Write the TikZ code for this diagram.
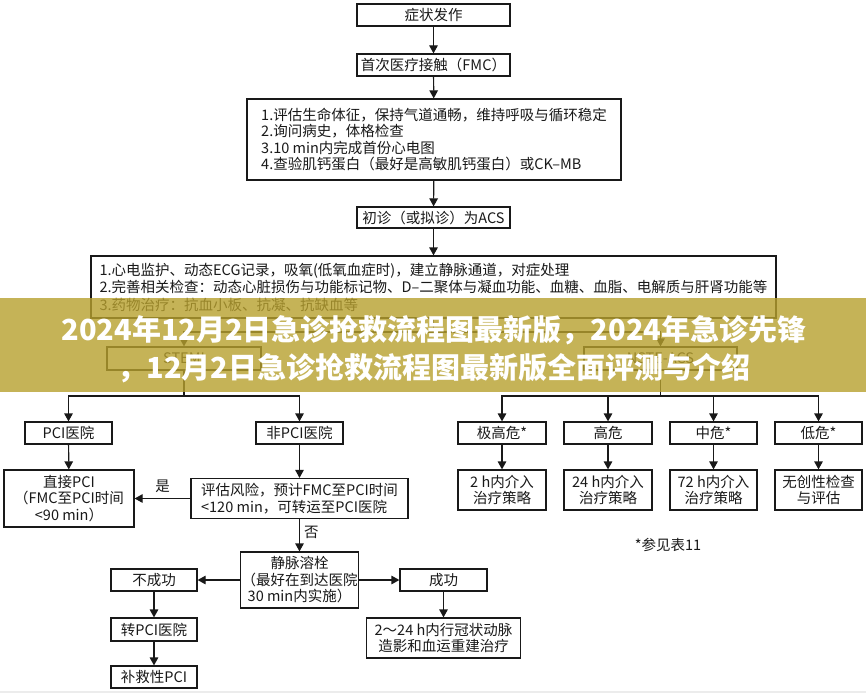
\documentclass[tikz,border=0pt]{standalone}
\usepackage{fontspec}
\setmainfont{Noto Sans CJK SC}
\usetikzlibrary{arrows.meta}
\definecolor{bannerc}{RGB}{183,160,46}
\definecolor{inkc}{RGB}{25,25,25}
\begin{document}
\begin{tikzpicture}[x=1pt,y=-1pt,
  box/.style={draw=inkc, line width=1.2pt, inner sep=0pt, text=inkc,
    font=\fontsize{14.5}{16.5}\selectfont, align=center},
  arr/.style={draw=inkc, line width=1.2pt, -{Triangle[length=8pt,width=8.5pt]}},
  ln/.style={draw=inkc, line width=1.2pt},
  lbl/.style={text=inkc, font=\fontsize{14.5}{16.5}\selectfont, inner sep=0pt}]
\useasboundingbox (0,0) rectangle (866,693);
\fill[white] (0,0) rectangle (866,693);

% top chain
\node[box, minimum width=153pt, minimum height=22pt] (s1) at (433.5,15) {症状发作};
\node[box, minimum width=153pt, minimum height=22pt] (s2) at (433.5,65) {首次医疗接触（FMC）};
\node[box, align=left, minimum width=374pt, minimum height=81pt] (b1) at (434,139.5)
  {1.评估生命体征，保持气道通畅，维持呼吸与循环稳定\\2.询问病史，体格检查\\3.10 min内完成首份心电图\\4.查验肌钙蛋白（最好是高敏肌钙蛋白）或CK–MB};
\node[box, minimum width=153pt, minimum height=21pt] (acs) at (433.5,217.5) {初诊（或拟诊）为ACS};
\node[box, align=left, font=\fontsize{14.5}{17.5}\selectfont, minimum width=685pt, minimum height=62pt] (b2) at (433.5,287)
  {1.心电监护、动态ECG记录，吸氧(低氧血症时)，建立静脉通道，对症处理\\2.完善相关检查：动态心脏损伤与功能标记物、D–二聚体与凝血功能、血糖、血脂、电解质与肝肾功能等\\3.药物治疗：抗血小板、抗凝、抗缺血等};

\draw[arr] (s1) -- (s2);
\draw[arr] (s2) -- (b1);
\draw[arr] (b1) -- (acs);
\draw[arr] (acs) -- (b2);

% split
\node[box, minimum width=154pt, minimum height=23pt] (stemi) at (184,358.5) {STEMI};
\node[box, minimum width=153pt, minimum height=23pt] (nste) at (660.5,358.5) {NSTE-ACS};
\coordinate (j1) at (433.5,332);
\draw[ln] (b2.south) -- (j1);
\draw[arr] (j1) -| (stemi.north);
\draw[arr] (j1) -| (nste.north);

% STEMI branch
\node[box, minimum width=87pt, minimum height=22pt] (pcih) at (68.5,433) {PCI医院};
\node[box, minimum width=87pt, minimum height=22pt] (npcih) at (299.5,433) {非PCI医院};
\coordinate (j2) at (184,396);
\draw[ln] (stemi.south) -- (j2);
\draw[arr] (j2) -| (pcih.north);
\draw[arr] (j2) -| (npcih.north);

\node[box, minimum width=130pt, minimum height=57pt] (zj) at (69,498.5) {直接PCI\\（FMC至PCI时间\\<90 min）};
\node[box, align=left, minimum width=217pt, minimum height=40pt] (pg) at (299.5,498.5) {评估风险，预计FMC至PCI时间\\<120 min，可转运至PCI医院};
\draw[arr] (pcih) -- (zj);
\draw[arr] (npcih) -- (pg);
\draw[arr] (pg.west) -- (zj.east) node[lbl, midway, above=5pt] (yes) {是};

\node[box, minimum width=118pt, minimum height=56pt] (rx) at (299.5,580) {静脉溶栓\\（最好在到达医院\\30 min内实施）};
\draw[arr] (pg.south) -- (rx.north) node[lbl, pos=0.4, right=4pt] (no) {否};

\node[box, minimum width=86pt, minimum height=22pt] (bu) at (154,580) {不成功};
\node[box, minimum width=87pt, minimum height=22pt] (cg) at (443.5,580) {成功};
\draw[arr] (rx.west) -- (bu.east);
\draw[arr] (rx.east) -- (cg.west);
\node[box, minimum width=86pt, minimum height=23pt] (zpci) at (154,629.5) {转PCI医院};
\node[box, minimum width=86pt, minimum height=22pt] (bj) at (154,677) {补救性PCI};
\draw[arr] (bu) -- (zpci);
\draw[arr] (zpci) -- (bj);
\node[box, minimum width=154pt, minimum height=40pt] (cz) at (443.5,638) {2～24 h内行冠状动脉\\造影和血运重建治疗};
\draw[arr] (cg) -- (cz);

% NSTE-ACS branch
\coordinate (j3) at (660.5,396);
\draw[ln] (nste.south) -- (j3);
\node[box, minimum width=88pt, minimum height=22pt] (r1) at (502,433) {极高危*};
\node[box, minimum width=88pt, minimum height=22pt] (r2) at (608,433) {高危};
\node[box, minimum width=87pt, minimum height=22pt] (r3) at (713.5,433) {中危*};
\node[box, minimum width=87pt, minimum height=22pt] (r4) at (818.5,433) {低危*};
\node[box, minimum width=88pt, minimum height=40pt] (t1) at (502,490) {2 h内介入\\治疗策略};
\node[box, minimum width=88pt, minimum height=40pt] (t2) at (608,490) {24 h内介入\\治疗策略};
\node[box, minimum width=87pt, minimum height=40pt] (t3) at (713.5,490) {72 h内介入\\治疗策略};
\node[box, minimum width=87pt, minimum height=40pt] (t4) at (818.5,490) {无创性检查\\与评估};
\foreach \r/\t in {r1/t1,r2/t2,r3/t3,r4/t4}{
  \draw[arr] (j3) -| (\r.north);
  \draw[arr] (\r) -- (\t);
}
\node[lbl] (note) at (668,545) {*参见表11};

% overlay banner
\fill[bannerc, fill opacity=0.8] (0,298) rectangle (866,392);
\node[text=white, align=center, inner sep=0pt, font={\fontsize{29}{38}\selectfont\bfseries}] (banner) at (434,349)
  {2024年12月2日急诊抢救流程图最新版，2024年急诊先锋\\，12月2日急诊抢救流程图最新版全面评测与介绍};

\fill[gray!15] (0,691) rectangle (866,693);
\end{tikzpicture}
\end{document}
